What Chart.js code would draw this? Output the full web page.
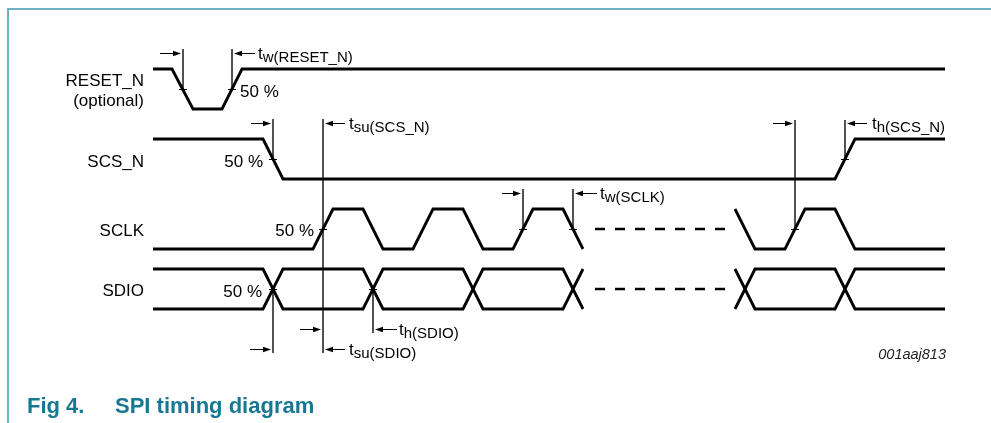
<!DOCTYPE html>
<html>
<head>
<meta charset="utf-8">
<script src="https://cdn.jsdelivr.net/npm/chart.js@4.4.0/dist/chart.umd.min.js"></script>
<style>
  html, body { margin: 0; padding: 0; background: #fff; }
  #wrap { position: relative; width: 991px; height: 423px; }
</style>
</head>
<body>
<div id="wrap"><canvas id="timing"></canvas></div>
<script>
/* =====================================================
   Signal data (time units, level 1 = high, 0 = low)
===================================================== */
const resetTimes  = [0, 1.9, 4.0, 6.9, 8.9, 79.2];
const resetLevels = [1, 1, 0, 0, 1, 1];

const scsTimes  = [0, 11, 13, 68.2, 70.2, 79.2];
const scsLevels = [1, 1, 0, 0, 1, 1];

const sclkTimes  = [0, 16, 18, 21, 23, 26, 28, 31, 33, 36, 38, 41, 43];
const sclkLevels = [0, 0, 1, 1, 0, 0, 1, 1, 0, 0, 1, 1, 0];
const sclkTimes2  = [58.2, 60.2, 63.2, 65.2, 68.2, 70.2, 79.2];
const sclkLevels2 = [1, 0, 0, 1, 1, 0, 0];

// SDIO bus: two rails crossing at every data change
const sdioTimes  = [0, 11, 13, 21, 23, 31, 33, 41, 43];
const sdioLevels = [1, 1, 0, 0, 1, 1, 0, 0, 1];
const sdioTimes2  = [58.2, 60.2, 68.2, 70.2, 79.2];
const sdioLevels2 = [1, 0, 0, 1, 1];

// break in the time axis (dashed part)
const gapTimes = [44.2, 57.2];

// timing reference lines: [time, from, to]
const markerLines = [
  [3.0, 4.9, 8.9], [7.9, 4.9, 8.9],
  [12, 11.9, 15.9], [17, 11.9, 35.3],
  [12, 28.9, 35.3], [22, 28.9, 33.3],
  [37, 18.9, 22.9], [42, 18.9, 22.9],
  [64.2, 12.0, 22.9], [69.2, 12.0, 15.9]
];

// 50 % points: [time, row]
const halfTicks = [
  [3.0, 'reset'], [7.9, 'reset'], [12, 'scs'], [69.2, 'scs'],
  [17, 'sclk'], [37, 'sclk'], [42, 'sclk'], [64.2, 'sclk'],
  [12, 'sdio'], [22, 'sdio']
];

// arrows: [tip, tail, level]
const arrows = [
  [2.8, 0.7, 5.3], [8.1, 10.2, 5.3],
  [11.8, 9.8, 12.3], [17.2, 19.2, 12.3],
  [36.8, 34.9, 19.3], [42.2, 44.4, 19.3],
  [64.0, 62.0, 12.3], [69.4, 71.4, 12.3],
  [16.8, 14.7, 32.9], [22.2, 24.4, 32.9],
  [11.8, 9.7, 34.9], [17.2, 19.2, 34.9]
];

// timing parameter labels: [subscript, time, level]
const paramLabels = [
  ['w(RESET_N)', 10.5, 5.3],
  ['su(SCS_N)', 19.6, 12.3],
  ['w(SCLK)', 44.7, 19.3],
  ['h(SCS_N)', 71.9, 12.3],
  ['h(SDIO)', 24.6, 32.9],
  ['su(SDIO)', 19.6, 34.9]
];

const signalNames = [['RESET_N', 8.6], ['(optional)', 10.6], ['SCS_N', 16.7], ['SCLK', 23.55], ['SDIO', 29.6]];
const percentLabels = [
  ['50 %', 8.7, 9.65, 'left'],
  ['50 %', 11, 16.65, 'right'],
  ['50 %', 16.1, 23.6, 'right'],
  ['50 %', 10.9, 29.65, 'right']
];

/* =====================================================
   Layout
===================================================== */
const ROW = { reset: 8.9, scs: 15.9, sclk: 22.9, sdio: 28.9 };
const SWING = 2;
const FONT = '"Liberation Sans", Arial, sans-serif';

const lvlY = (row, l) => ROW[row] + (l ? -SWING : SWING);
const trace = (times, levels, row, inv) =>
  times.map((t, i) => ({ x: t, y: lvlY(row, inv ? 1 - levels[i] : levels[i]) }));

const SIG = {
  borderColor: '#000', borderWidth: 2.8, pointRadius: 0, showLine: true,
  fill: false, tension: 0, borderJoinStyle: 'miter', borderCapStyle: 'butt'
};
const THIN = { ...SIG, borderColor: '#3a3a3a', borderWidth: 1 };

const datasets = [
  { ...SIG, data: trace(resetTimes, resetLevels, 'reset') },
  { ...SIG, data: trace(scsTimes, scsLevels, 'scs') },
  { ...SIG, data: trace(sclkTimes, sclkLevels, 'sclk') },
  { ...SIG, data: trace(sclkTimes2, sclkLevels2, 'sclk') },
  { ...SIG, data: trace(sdioTimes, sdioLevels, 'sdio') },
  { ...SIG, data: trace(sdioTimes, sdioLevels, 'sdio', true) },
  { ...SIG, data: trace(sdioTimes2, sdioLevels2, 'sdio') },
  { ...SIG, data: trace(sdioTimes2, sdioLevels2, 'sdio', true) },
  { ...SIG, borderWidth: 2.6, borderDash: [10, 10], data: gapTimes.map(t => ({ x: t, y: ROW.sclk })) },
  { ...SIG, borderWidth: 2.6, borderDash: [10, 10], data: gapTimes.map(t => ({ x: t, y: ROW.sdio })) },
  ...markerLines.map(([t, a, b]) => ({ ...THIN, data: [{ x: t, y: a }, { x: t, y: b }] }))
];

/* =====================================================
   Annotations (ticks, arrows, text, frame)
===================================================== */
const annotations = {
  id: 'annotations',
  beforeDraw(chart) {
    const { ctx, width, height } = chart;
    ctx.save();
    ctx.strokeStyle = '#6cb2c2';
    ctx.lineWidth = 2;
    ctx.beginPath();
    ctx.moveTo(8, height);
    ctx.lineTo(8, 9);
    ctx.lineTo(width, 9);
    ctx.stroke();
    ctx.restore();
  },
  afterDatasetsDraw(chart) {
    const { ctx, scales: { x, y } } = chart;
    const px = t => x.getPixelForValue(t), py = v => y.getPixelForValue(v);
    ctx.save();

    // 50 % ticks
    ctx.strokeStyle = '#000';
    ctx.lineWidth = 1;
    halfTicks.forEach(([t, row]) => {
      ctx.beginPath();
      ctx.moveTo(px(t) - 4, py(ROW[row]) + 0.5);
      ctx.lineTo(px(t) + 4, py(ROW[row]) + 0.5);
      ctx.stroke();
    });

    // arrows
    ctx.fillStyle = '#000';
    arrows.forEach(([tip, tail, v]) => {
      const xt = px(tip), xs = px(tail), yy = py(v) + 0.5, d = Math.sign(xt - xs);
      ctx.beginPath();
      ctx.moveTo(xs, yy);
      ctx.lineTo(xt - d * 5, yy);
      ctx.stroke();
      ctx.beginPath();
      ctx.moveTo(xt, yy);
      ctx.lineTo(xt - d * 8, yy - 2.8);
      ctx.lineTo(xt - d * 8, yy + 2.8);
      ctx.closePath();
      ctx.fill();
    });

    // timing parameter labels
    ctx.fillStyle = '#000';
    ctx.textAlign = 'left';
    ctx.textBaseline = 'alphabetic';
    paramLabels.forEach(([sub, t, v]) => {
      ctx.font = '17px ' + FONT;
      ctx.fillText('t', px(t), py(v + 0.6));
      const w = ctx.measureText('t').width;
      ctx.font = '15px ' + FONT;
      ctx.fillText(sub, px(t) + w, py(v + 0.9));
    });

    // signal names
    ctx.font = '17px ' + FONT;
    ctx.textAlign = 'right';
    signalNames.forEach(([s, v]) => ctx.fillText(s, px(-0.9), py(v)));

    // 50 % labels
    percentLabels.forEach(([s, t, v, a]) => {
      ctx.textAlign = a;
      ctx.fillText(s, px(t), py(v));
    });

    // figure id
    ctx.font = 'italic 14.5px ' + FONT;
    ctx.textAlign = 'right';
    ctx.fillStyle = '#222';
    ctx.fillText('001aaj813', px(79.3), py(35.9));

    // caption
    ctx.font = 'bold 22px ' + FONT;
    ctx.textAlign = 'left';
    ctx.fillStyle = '#177894';
    ctx.fillText('Fig 4.', 27, 413);
    ctx.fillText('SPI timing diagram', 115, 413);

    ctx.restore();
  }
};

new Chart(document.getElementById('timing'), {
  type: 'scatter',
  data: { datasets },
  options: {
    responsive: true,
    maintainAspectRatio: false,
    animation: false,
    events: [],
    layout: { padding: 0 },
    plugins: { legend: { display: false }, tooltip: { enabled: false } },
    scales: {
      x: { type: 'linear', display: false, min: -15.3, max: 83.8 },
      y: { type: 'linear', display: false, min: 0, max: 42.3, reverse: true }
    }
  },
  plugins: [annotations]
});
</script>
</body>
</html>
